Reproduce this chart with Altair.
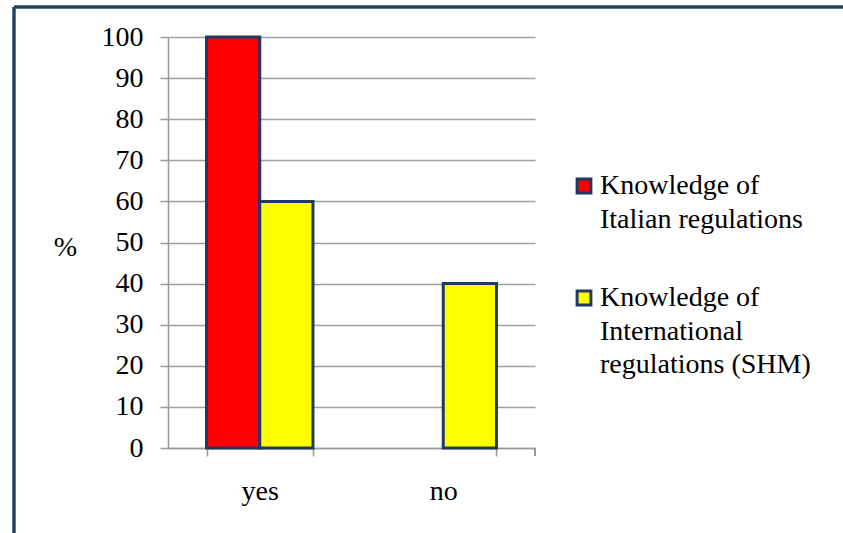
import altair as alt
import pandas as pd

categories = ["yes", "no"]
series = ["Knowledge of Italian regulations", "Knowledge of International regulations (SHM)"]
italian = [100, 0]
international = [60, 40]

rows = []
for i, c in enumerate(categories):
    rows.append({"answer": c, "series": series[0], "value": italian[i]})
    rows.append({"answer": c, "series": series[1], "value": international[i]})
df = pd.DataFrame(rows)

FONT = "Liberation Serif"
FS = 28
W, H = 367, 411
PAD_L, PAD_T = 168, 37

label_map = ("datum.label == 'Knowledge of Italian regulations' ? ['Knowledge of', 'Italian regulations'] : "
             "['Knowledge of', 'International', 'regulations (SHM)']")

# square legend symbol, lifted so it sits beside the first text line
symbol_path = "M-1,-2.16H1V-0.16H-1Z"

bars = alt.Chart(df).transform_filter("datum.value > 0").mark_bar(
    stroke="#1F3864", strokeWidth=3
).encode(
    x=alt.X("answer:N", sort=categories, title=None,
            scale=alt.Scale(paddingInner=0.42, paddingOuter=0.21),
            axis=alt.Axis(labelAngle=0, labelFont=FONT, labelFontSize=FS, labelColor="#000",
                          domainColor="#999", domainWidth=1.5, tickColor="#999", tickWidth=1.5,
                          tickSize=8, tickBand="extent", labelPadding=21, grid=False)),
    xOffset=alt.XOffset("series:N", sort=series),
    y=alt.Y("value:Q", title="%",
            scale=alt.Scale(domain=[0, 100], nice=False),
            axis=alt.Axis(values=list(range(0, 101, 10)), labelFont=FONT, labelFontSize=FS,
                          labelColor="#000", domainColor="#999", domainWidth=1.5,
                          tickColor="#999", tickWidth=1.5, tickSize=8, labelPadding=17,
                          gridColor="#A0A0A0", gridWidth=1.5,
                          titleFont=FONT, titleFontSize=FS, titleFontWeight="normal",
                          titleAngle=0, titleAlign="center", titleBaseline="middle",
                          titleX=-103, titleY=210, titleColor="#000")),
    color=alt.Color("series:N", sort=series,
                    scale=alt.Scale(domain=series, range=["#FF0000", "#FFFF00"]),
                    legend=alt.Legend(title=None, orient="none", legendX=402, legendY=143,
                                      symbolType=symbol_path, symbolSize=190,
                                      symbolStrokeColor="#1F3864", symbolStrokeWidth=3,
                                      labelFont=FONT, labelFontSize=FS, labelColor="#000",
                                      labelExpr=label_map, labelLimit=400,
                                      labelBaseline="alphabetic", labelOffset=2,
                                      rowPadding=50, direction="vertical")),
)

end_tick = alt.Chart(df).mark_rule(color="#999", strokeWidth=1.5).encode(
    x=alt.value(W), y=alt.value(H), y2=alt.value(H + 8)
)

border_top = alt.Chart(df).mark_rule(color="#1F3F5F", strokeWidth=2.5).encode(
    x=alt.value(14 - PAD_L), x2=alt.value(843 - PAD_L), y=alt.value(7 - PAD_T)
)
border_left = alt.Chart(df).mark_rule(color="#1F3F5F", strokeWidth=2.5).encode(
    x=alt.value(14 - PAD_L), y=alt.value(7 - PAD_T), y2=alt.value(533 - PAD_T)
)

chart = alt.layer(bars, end_tick, border_top, border_left).properties(
    width=W, height=H,
    autosize=alt.AutoSizeParams(type="none"),
    padding={"left": PAD_L, "top": PAD_T, "right": 843 - PAD_L - W, "bottom": 533 - PAD_T - H},
    background="white",
).configure(style={"guide-label": {"lineHeight": 33.5}}).configure_view(stroke=None)

chart.save("out.html", embed_options={"renderer": "svg", "actions": False})
